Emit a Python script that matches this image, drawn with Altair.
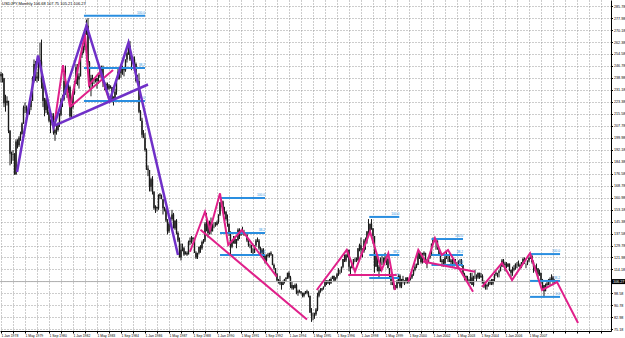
import json
import altair as alt
import pandas as pd

# ---------------- data ----------------
header_text = "USDJPY,Monthly  106.68 107.75 105.21 106.27"
last_price = 106.27
first_open = 240.0

# monthly candles Jan 1978 .. Oct 2008 (one row per year)
close = [
    241.6, 238.8, 222.5, 222.6, 224.1, 204.5, 189.6, 189.1, 189.4, 176.0, 197.6, 195.1,  # 1978
    200.0, 202.5, 209.3, 219.6, 219.8, 217.4, 216.7, 220.0, 224.0, 239.0, 248.1, 239.9,  # 1979
    238.6, 250.6, 249.7, 236.0, 224.0, 218.0, 225.0, 217.0, 211.0, 210.0, 214.0, 203.0,  # 1980
    205, 205, 209, 215, 225, 225, 237, 231, 231, 233, 214, 220,  # 1981
    229, 235, 246, 238, 240, 254, 256, 259, 268, 273, 249, 235,  # 1982
    239, 238, 239, 237, 239, 240, 241, 246, 236, 234, 235, 232,  # 1983
    234, 233, 225, 225, 230, 238, 243, 242, 246, 246, 244, 251,  # 1984
    255, 260, 251, 251, 251, 248, 237, 237, 217, 211, 202, 200,  # 1985
    192, 180, 179, 168, 173, 165, 154, 155, 154, 163, 162, 160,  # 1986
    154, 153, 146, 139, 144, 147, 150, 141, 146, 138, 133, 122,  # 1987
    127, 128, 124, 125, 124, 132, 133, 135, 134, 125, 122, 125,  # 1988
    129, 128, 132, 133, 144, 144, 138, 145, 139, 143, 143, 143,  # 1989
    145, 150, 158, 159, 152, 152, 147, 144, 138, 129, 133, 134,  # 1990
    131, 133, 140, 137, 138, 138, 137, 137, 133, 130, 130, 125,  # 1991
    125, 130, 133, 133, 128, 125, 127, 123, 120, 123, 124, 125,  # 1992
    124, 117, 115, 111, 107, 107, 105, 104, 106, 108, 109, 112,  # 1993
    109, 104, 102, 102, 104, 99, 100, 100, 99, 97, 99, 100,  # 1994
    99, 97, 86, 84, 84, 85, 88, 97, 100, 101, 102, 103,  # 1995
    107, 105, 107, 105, 108, 110, 107, 109, 111, 114, 114, 116,  # 1996
    121, 120, 124, 127, 116, 115, 118, 121, 121, 120, 128, 130,  # 1997
    127, 126, 133, 133, 139, 139, 144, 141, 136, 116, 123, 113,  # 1998
    116, 119, 119, 119, 122, 121, 115, 110, 106, 104, 102, 102,  # 1999
    107, 110, 103, 108, 107, 106, 109, 106, 108, 109, 111, 114,  # 2000
    116, 117, 126, 124, 119, 124, 125, 119, 119, 122, 123, 131,  # 2001
    134, 133, 133, 128, 124, 119, 120, 118, 122, 122, 122, 119,  # 2002
    120, 118, 118, 119, 119, 120, 120, 117, 111, 110, 109, 107,  # 2003
    106, 109, 104, 110, 110, 109, 112, 109, 110, 106, 103, 103,  # 2004
    104, 105, 107, 105, 108, 111, 112, 112, 113, 116, 120, 118,  # 2005
    117, 116, 118, 114, 112, 114, 115, 118, 118, 117, 116, 119,  # 2006
    121, 118, 118, 120, 122, 123, 119, 116, 115, 115, 111, 112,  # 2007
    107, 104, 100, 104, 105, 106, 108, 109, 106, 106.27,  # 2008
]
high = [
    243, 242, 239, 228, 227, 224, 205, 191, 192, 190, 199, 199,
    201, 204, 210, 221, 223, 221, 218, 220, 225, 240, 251, 250,
    243, 251, 262, 264, 240, 226, 226, 226, 218, 212, 216, 216,
    206, 209, 210, 216, 226, 228, 242, 247, 235, 235, 234, 222,
    230, 237, 248, 248, 242, 255, 258, 260, 271, 277, 278, 250,
    241, 241, 239, 239, 239, 241, 244, 247, 247, 236, 236, 236,
    235, 234, 233, 227, 232, 238, 245, 245, 247, 247, 246, 251,
    256, 264, 263, 253, 253, 253, 249, 241, 242, 218, 213, 205,
    203, 193, 182, 179, 174, 175, 165, 156, 155, 163, 164, 163,
    160, 155, 154, 147, 145, 148, 153, 151, 146, 147, 139, 135,
    131, 131, 129, 126, 126, 133, 135, 136, 135, 134, 126, 125,
    129, 130, 133, 134, 145, 151, 145, 146, 148, 144, 145, 145,
    146, 150, 158, 160, 158, 155, 152, 150, 144, 139, 133, 136,
    136, 134, 141, 141, 139, 142, 140, 138, 137, 134, 131, 130,
    128, 130, 134, 135, 134, 129, 128, 128, 124, 124, 125, 125,
    126, 124, 118, 115, 112, 108, 110, 106, 107, 108, 109, 112,
    113, 110, 106, 104, 105, 105, 101, 101, 100, 99, 99, 100,
    101, 100, 97, 89, 86, 86, 89, 99, 101, 102, 102, 103,
    107, 107, 107, 108, 109, 110, 110, 109, 112, 115, 114, 116,
    121, 124, 124, 127, 127, 116, 118, 121, 122, 122, 128, 131,
    135, 128, 134, 135, 139, 147, 144, 147, 141, 136, 124, 123,
    117, 122, 123, 122, 125, 122, 122, 115, 111, 107, 105, 104,
    107, 111, 111, 108, 110, 107, 109, 109, 108, 109, 111, 114,
    118, 118, 126, 126, 125, 125, 126, 125, 121, 123, 124, 131,
    135, 135, 134, 133, 128, 125, 121, 121, 124, 126, 123, 125,
    121, 121, 121, 121, 119, 120, 121, 121, 117, 112, 110, 110,
    108, 112, 112, 110, 114, 111, 112, 112, 112, 111, 107, 105,
    105, 106, 107, 108, 108, 111, 113, 112, 114, 116, 121, 121,
    119, 119, 118, 118, 114, 116, 117, 118, 119, 120, 118, 119,
    122, 122, 118, 120, 122, 124, 124, 120, 117, 118, 115, 114,
    112, 108, 104, 105, 106, 108, 109, 111, 110, 107.75,
]
low = [
    236, 236, 220, 217, 221, 203, 182, 183, 185, 176, 176, 193,
    194, 198, 202, 209, 216, 215, 215, 215, 218, 224, 236, 237,
    236, 237, 246, 232, 220, 214, 216, 215, 210, 203, 208, 202,
    198, 202, 204, 207, 214, 220, 224, 228, 226, 229, 213, 213,
    219, 228, 235, 234, 232, 240, 252, 255, 257, 267, 247, 232,
    227, 233, 235, 236, 232, 235, 239, 240, 233, 231, 232, 231,
    231, 232, 223, 221, 224, 228, 238, 238, 239, 241, 240, 243,
    249, 254, 250, 244, 249, 247, 236, 235, 216, 211, 200, 200,
    191, 179, 175, 165, 165, 163, 153, 151, 152, 153, 160, 160,
    150, 152, 145, 137, 138, 143, 146, 141, 140, 137, 132, 122,
    120, 126, 123, 124, 123, 124, 130, 131, 132, 125, 121, 121,
    124, 125, 127, 131, 132, 139, 135, 137, 137, 139, 141, 142,
    143, 144, 149, 155, 151, 150, 146, 142, 136, 124, 128, 131,
    131, 128, 133, 134, 136, 137, 136, 136, 132, 129, 128, 125,
    124, 125, 129, 132, 127, 124, 124, 122, 118, 119, 122, 122,
    123, 117, 114, 110, 106, 105, 104, 101, 104, 105, 106, 108,
    108, 102, 101, 101, 102, 98, 97, 99, 98, 96, 96, 98,
    98, 96, 86, 80, 81, 82, 84, 87, 96, 99, 100, 101,
    103, 104, 105, 104, 105, 108, 106, 107, 108, 110, 111, 112,
    115, 119, 119, 122, 113, 111, 115, 116, 119, 119, 120, 126,
    124, 122, 125, 127, 131, 136, 138, 140, 131, 112, 116, 113,
    108, 113, 117, 117, 119, 117, 115, 109, 104, 104, 101, 101,
    102, 105, 102, 102, 105, 104, 105, 105, 105, 107, 108, 110,
    113, 115, 117, 121, 118, 118, 123, 118, 115, 119, 121, 124,
    131, 132, 127, 127, 123, 119, 116, 116, 117, 121, 119, 119,
    117, 116, 116, 118, 115, 117, 118, 116, 111, 107, 107, 106,
    105, 105, 104, 103, 108, 106, 108, 108, 109, 105, 102, 101,
    101, 103, 104, 104, 104, 106, 110, 109, 109, 113, 116, 116,
    113, 115, 116, 113, 109, 110, 113, 114, 115, 116, 115, 115,
    118, 118, 115, 117, 119, 121, 118, 112, 113, 113, 108, 110,
    105, 101, 96, 100, 103, 104, 104, 107, 104, 105.21,
]

# time axis: month index since Jan 1978
date_labels = ["1 Jan 1978", "1 May 1979", "1 Sep 1980", "1 Jan 1982", "1 May 1983",
               "1 Sep 1984", "1 Jan 1986", "1 May 1987", "1 Sep 1988", "1 Jan 1990",
               "1 May 1991", "1 Sep 1992", "1 Jan 1994", "1 May 1995", "1 Sep 1996",
               "1 Jan 1998", "1 May 1999", "1 Sep 2000", "1 Jan 2002", "1 May 2003",
               "1 Sep 2004", "1 Jan 2006", "1 May 2007"]
x_grid = [0, 8, 16, 24, 32, 40, 48, 56, 64, 72, 80, 88, 96, 104, 112, 120, 128, 136, 144,
          152, 160, 168, 176, 184, 192, 200, 208, 216, 224, 232, 240, 248, 256, 264, 272,
          280, 288, 296, 304, 312, 320, 328, 336, 344, 352, 360, 368, 376, 384, 392, 400]
price_ticks = [285.78, 277.98, 270.18, 262.38, 254.58, 246.78, 238.98, 231.18, 223.38,
               215.58, 207.78, 199.98, 192.18, 184.38, 176.58, 168.78, 160.98, 153.18,
               145.38, 137.58, 129.78, 121.98, 114.18, 106.38, 98.58, 90.78, 82.98, 75.18]

# purple wave lines
purple_lines = {
    "p_zig": ([10.7, 24.7, 35, 57, 72.5, 85, 118],
              [177.7, 253.6, 206.8, 273.1, 224.4, 261.9, 123.6]),
    "p_trend": ([36, 98], [208.0, 234.7]),
}
# pink wave lines
pink_lines = {
    "k1": ([36, 41.3, 46, 56, 58.7, 66, 72], [211.6, 247.3, 220.0, 267.7, 234.4, 242.9, 224.9]),
    "k2": ([46, 74.7], [220.0, 244.2]),
    "k3": ([126, 136, 139.3, 146, 151.5, 160.5, 183.8],
           [125.7, 151.8, 139.9, 163.8, 130.1, 139.9, 109.5]),
    "k4": ([133, 204], [140.0, 81.5]),
    "k5": ([210.5, 230.5, 236, 246, 253.8, 258.2, 262.7],
           [100.8, 126.9, 112.7, 138.8, 113.8, 124.7, 100.8]),
    "k6": ([231.5, 263.8], [110.6, 110.6]),
    "k7": ([271.5, 278.2, 283.8, 289.3, 293.8, 298, 314.7],
           [106.2, 126.9, 118.2, 134.5, 123.6, 126.9, 99.7]),
    "k8": ([281.3, 316], [119.3, 112.7]),
    "k9": ([320.7, 334, 340.7, 352.7, 360.7, 370.7, 384.7],
           [102.8, 118.4, 107.3, 124.8, 100.8, 106.0, 79.3]),
}
# Fibonacci retracement sets
fib_start = [55.3, 146, 245.5, 287, 352.7]
fib_end = [96, 176, 265.5, 308, 372.7]
fib_100 = [279.5, 160.8, 148.4, 134.0, 124.2]
fib_382 = [245.4, 138.0, 123.6, 123.6, 106.7]
fib_0 = [224.0, 123.6, 108.6, 117.1, 96.3]
fib_names = ["100.0", "38.2", "0.0"]

# ---------------- tables ----------------
n = len(close)
opens = [first_open] + close[:-1]
candles = pd.DataFrame({"m": list(range(n)), "o": opens, "c": close, "h": high, "l": low})
candles["v"] = candles["l"]
candles["v2"] = candles["h"]
candles["bt"] = candles[["o", "c"]].min(axis=1)
candles["tp"] = candles[["o", "c"]].max(axis=1)

def lines_df(d):
    rows = []
    for name, (ms, vs) in d.items():
        for i, (mm, vv) in enumerate(zip(ms, vs)):
            rows.append({"g": name, "i": i, "m": mm, "v": vv})
    return pd.DataFrame(rows)

purple_df = lines_df(purple_lines)
pink_df = lines_df(pink_lines)

fib_rows = []
for k in range(len(fib_start)):
    for name, lv in zip(fib_names, [fib_100[k], fib_382[k], fib_0[k]]):
        fib_rows.append({"m": fib_start[k], "m2": fib_end[k], "v": lv, "lab": name})
fib_df = pd.DataFrame(fib_rows)

# ---------------- scales / axes ----------------
FONT = "Liberation Sans"
xs = alt.Scale(domain=[-0.667, 406.67], nice=False, zero=False)
ys = alt.Scale(domain=[74.07, 289.76], nice=False, zero=False)

lab_expr = ("datum.value % 16 == 0 && datum.value / 16 < " + str(len(date_labels))
            + " ? " + json.dumps(date_labels) + "[datum.value / 16] : ''")
x_axis = alt.Axis(values=x_grid, labelExpr=lab_expr, title=None, grid=True,
                  gridDash=[1, 2], gridColor="#9a9a9a", gridWidth=1,
                  domainColor="#000000", tickColor="#000000", tickSize=2,
                  labelAlign="left", labelBaseline="top", labelPadding=0, labelFontSize=3.4,
                  labelFont=FONT, labelColor="#000000", labelOverlap=False, labelFlush=False,
                  labelBound=False)
y_axis = alt.Axis(values=price_ticks, format=".2f", orient="right", title=None, grid=True,
                  gridDash=[1, 2], gridColor="#9a9a9a", gridWidth=1,
                  domainColor="#000000", tickColor="#000000", tickSize=1.5,
                  labelPadding=1, labelFontSize=3.7, labelFont=FONT, labelColor="#000000",
                  labelOverlap=False, labelFlush=False, labelBound=False)

PURPLE = "#7030c8"
PINK = "#e0208a"
BLUE = "#2a8ee0"

def X(field):
    return alt.X(field, scale=xs, axis=x_axis)

def Y(field):
    return alt.Y(field, scale=ys, axis=y_axis)

wicks = alt.Chart(candles).mark_rule(color="#1a1a1a", strokeWidth=1).encode(
    x=X("m:Q"), y=Y("v:Q"), y2="v2:Q")
bodies = alt.Chart(candles).mark_rule(color="#1a1a1a", strokeWidth=1.4).encode(
    x=X("m:Q"), y=Y("bt:Q"), y2="tp:Q")

price_line = alt.Chart(pd.DataFrame({"v": [last_price]})).mark_rule(
    color="#b0b0b0", strokeWidth=1).encode(y=Y("v:Q"))

fib_lines = alt.Chart(fib_df).mark_rule(color=BLUE, strokeWidth=2).encode(
    x=X("m:Q"), x2="m2:Q", y=Y("v:Q"))
fib_text = alt.Chart(fib_df).mark_text(
    color=BLUE, fontSize=3.2, font=FONT, align="right", baseline="bottom", dy=-1).encode(
    x=X("m2:Q"), y=Y("v:Q"), text="lab:N")

pink = alt.Chart(pink_df).mark_line(color=PINK, strokeWidth=2).encode(
    x=X("m:Q"), y=Y("v:Q"), detail="g:N", order="i:Q")
purple = alt.Chart(purple_df).mark_line(color=PURPLE, strokeWidth=2.5).encode(
    x=X("m:Q"), y=Y("v:Q"), detail="g:N", order="i:Q")

head = alt.Chart(pd.DataFrame({"t": [header_text]})).mark_text(
    align="left", baseline="top", fontSize=4, font=FONT, color="#000000").encode(
    x=alt.value(2), y=alt.value(2), text="t:N")

price_df = pd.DataFrame({"v": [last_price], "t": ["%.2f" % last_price]})
price_box = alt.Chart(price_df).mark_rule(color="#000000", strokeWidth=5).encode(
    x=alt.value(612), x2=alt.value(625), y=Y("v:Q"))
price_txt = alt.Chart(price_df).mark_text(
    align="left", baseline="middle", fontSize=3.7, font=FONT, color="#ffffff").encode(
    x=alt.value(613), y=Y("v:Q"), text="t:N")

chart = alt.layer(
    wicks, bodies, price_line, fib_lines, fib_text, pink, purple, head, price_box, price_txt
).properties(
    width=611, height=331,
    autosize=alt.AutoSizeParams(type="none"),
    padding={"left": 0, "top": 0, "right": 14, "bottom": 7},
    background="#ffffff",
).configure_view(stroke=None)

chart.save("out.html", embed_options={"renderer": "svg", "actions": False})
